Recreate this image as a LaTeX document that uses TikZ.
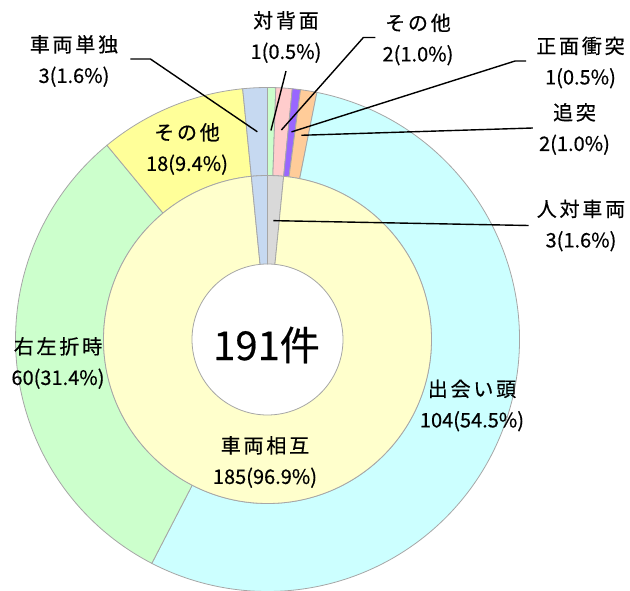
\documentclass[tikz,border=0pt]{standalone}
\usepackage{fontspec}
\newfontfamily\jp[FakeBold=0.5]{Noto Sans CJK JP}
\newfontfamily\jpwide[LetterSpace=14,FakeBold=0.5]{Noto Sans CJK JP}
\usepackage{tikz}
\definecolor{ringcyan}{HTML}{CCFFFF}
\definecolor{ringgreen}{HTML}{CCFFCC}
\definecolor{ringyellow}{HTML}{FFFF99}
\definecolor{ringblue}{HTML}{C6D9F1}
\definecolor{ringpink}{HTML}{FFCCCC}
\definecolor{ringpurple}{HTML}{9966FF}
\definecolor{ringorange}{HTML}{FFCC99}
\definecolor{ringgray}{HTML}{D9D9D9}
\definecolor{ringcream}{HTML}{FFFFCC}
\definecolor{ringedge}{HTML}{A6A6A6}
\tikzset{
  slice/.style={draw=ringedge, line width=.8pt},
  leader/.style={line width=1.4pt},
  lbl/.style={font=\jp\fontsize{20}{31}\selectfont, align=center, inner sep=2pt},
}
\pgfmathsetmacro\stepang{360/191}

\begin{document}
\begin{tikzpicture}[x=1pt, y=1pt]
        \useasboundingbox (-267.5,-251.5) rectangle (362.5,339.5);
        % outer ring
        \foreach \s/\e/\c in {0/1/ringgreen, 1/3/ringpink, 3/4/ringpurple, 4/6/ringorange,
            6/110/ringcyan, 110/170/ringgreen, 170/188/ringyellow, 188/191/ringblue}
          \draw[slice, fill=\c] ({90-\s*\stepang}:252)
            arc[start angle={90-\s*\stepang}, end angle={90-\e*\stepang}, radius=252]
            -- ({90-\e*\stepang}:164)
            arc[start angle={90-\e*\stepang}, end angle={90-\s*\stepang}, radius=164] -- cycle;
        % inner ring
        \foreach \s/\e/\c in {0/3/ringgray, 3/188/ringcream, 188/191/ringblue}
          \draw[slice, fill=\c] ({90-\s*\stepang}:164)
            arc[start angle={90-\s*\stepang}, end angle={90-\e*\stepang}, radius=164]
            -- ({90-\e*\stepang}:75.5)
            arc[start angle={90-\e*\stepang}, end angle={90-\s*\stepang}, radius=75.5] -- cycle;
        % labels
        \node[lbl] (single) at (-193.5,278.5) {{\jpwide 車両単独}\\3(1.6\%)};
        \node[lbl] (back) at (18.5,302.5) {{\jpwide 対背面}\\1(0.5\%)};
        \node[lbl] (othertop) at (150.5,300) {{\jpwide その他}\\2(1.0\%)};
        \node[lbl] (headon) at (313,277) {{\jpwide 正面衝突}\\1(0.5\%)};
        \node[lbl] (rearend) at (307,210.5) {{\jpwide 追突}\\2(1.0\%)};
        \node[lbl] (pedestrian) at (313.5,114) {{\jpwide 人対車両}\\3(1.6\%)};
        \node[lbl] (otherring) at (-80.5,190.5) {{\jpwide その他}\\18(9.4\%)};
        \node[lbl] (turning) at (-209.5,-23.5) {{\jpwide 右左折時}\\60(31.4\%)};
        \node[lbl] (crossing) at (204.5,-66) {{\jpwide 出会い頭}\\104(54.5\%)};
        \node[lbl] (mutual) at (-2.5,-122.5) {{\jpwide 車両相互}\\185(96.9\%)};
        \node[font=\jp\fontsize{40}{48}\selectfont] (total) at (-1,-5.5) {191件};
        % lines
        \coordinate (p-single) at (92.8:208);
        \coordinate (p-back) at (89.06:209);
        \coordinate (p-othertop) at (86.2:210);
        \coordinate (p-headon) at (83.4:209);
        \coordinate (p-rearend) at (80.6:207);
        \coordinate (p-pedestrian) at (87.2:119);
        \draw[leader] ([shift={(10,2)}]single.east) -- ++(20,0) -- (p-single);
        \draw[leader] ([yshift=-6pt]back.south) -- (p-back);
        \draw[leader] ([shift={(-5,2)}]othertop.west) -- ++(-12,0) -- (p-othertop);
        \draw[leader] ([shift={(-8,1.5)}]headon.west) -- ++(-11,0) -- (p-headon);
        \draw[leader] ([shift={(-4,1)}]rearend.west) -- (p-rearend);
        \draw[leader] ([xshift=-6pt]pedestrian.west) -- (p-pedestrian);
      \end{tikzpicture}
\end{document}
